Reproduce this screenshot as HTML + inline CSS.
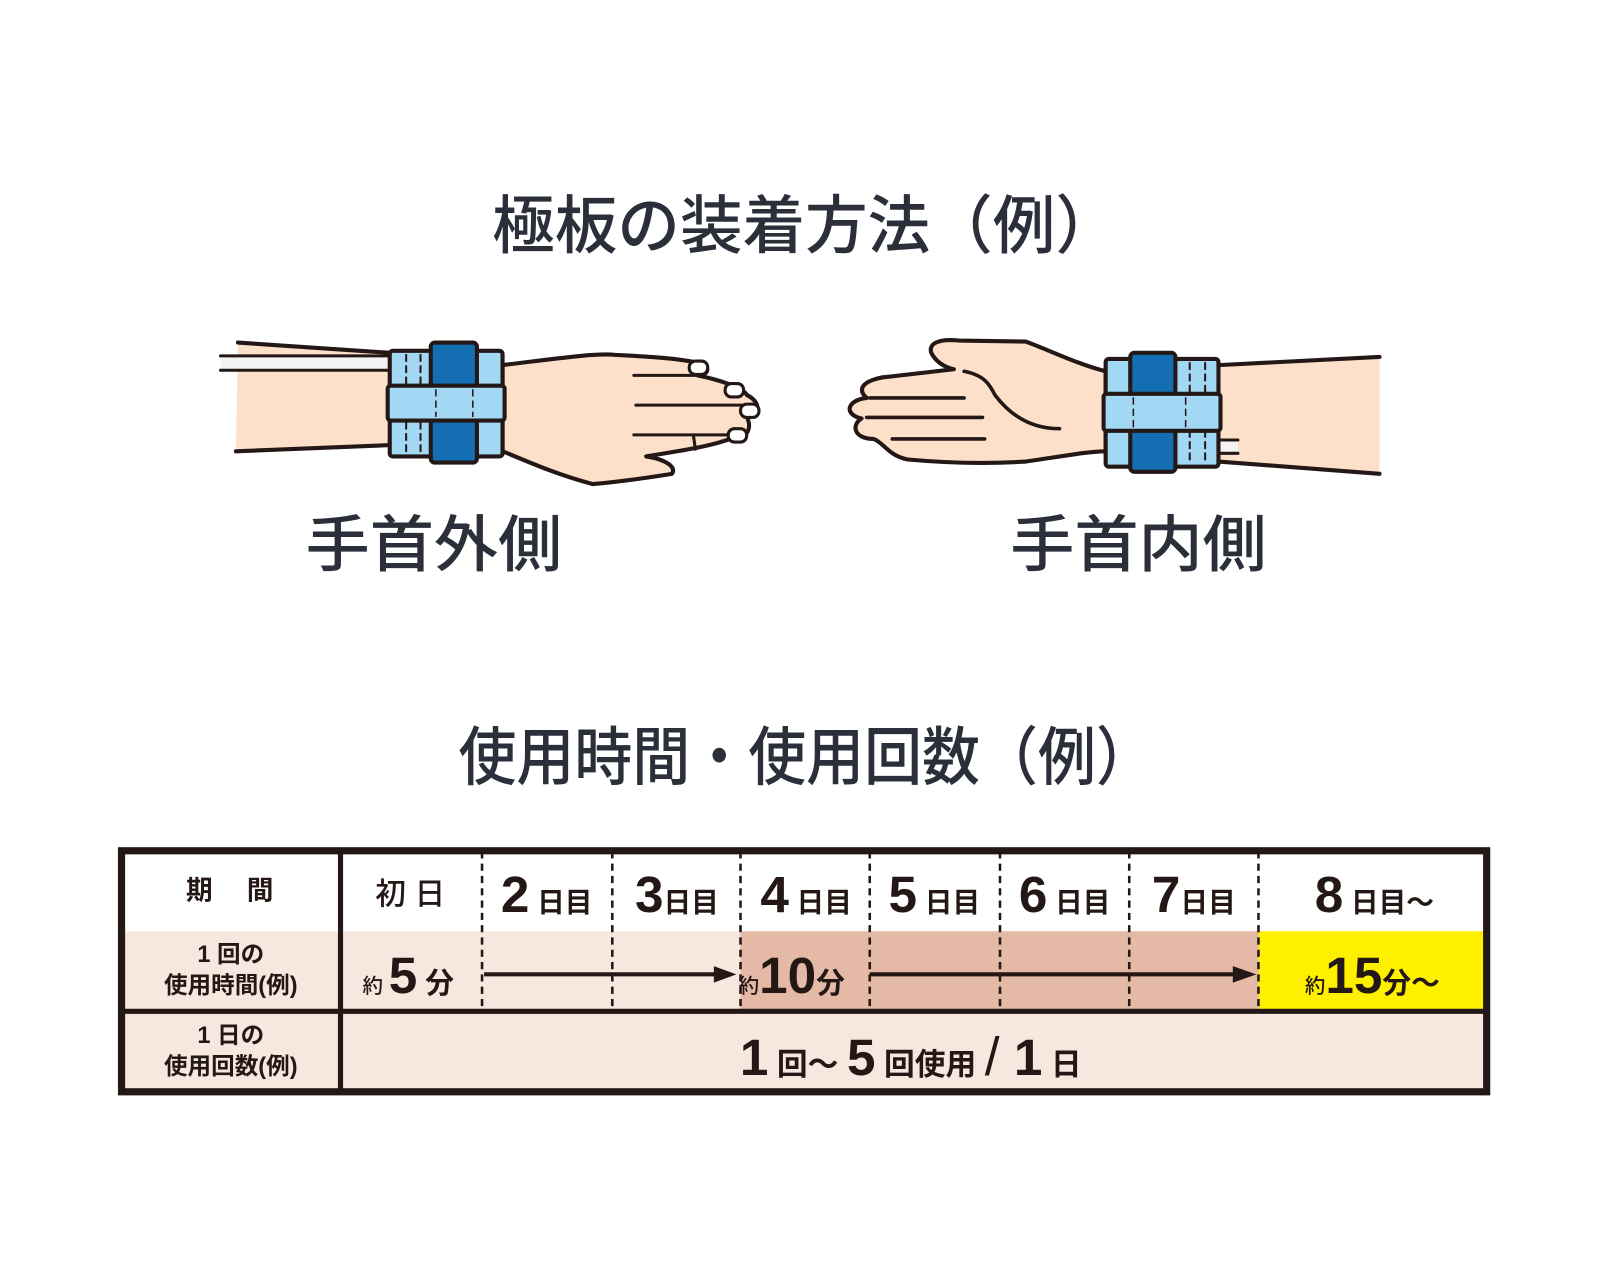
<!DOCTYPE html>
<html><head><meta charset="utf-8"><style>
html,body{margin:0;padding:0;background:#fff}
svg{display:block}
text{font-family:"Liberation Sans","Noto Sans CJK JP",sans-serif;fill:#231815}
.t{font-family:"Noto Sans CJK JP",sans-serif;fill:#2a2f3a;font-weight:500}
.n{font-family:"Liberation Sans Narrow","Liberation Sans",sans-serif;font-weight:700}
</style></head><body>
<svg width="1600" height="1280" viewBox="0 0 1560 1248" xmlns="http://www.w3.org/2000/svg">
<text class="t" x="480" y="242" font-size="62" textLength="610" lengthAdjust="spacingAndGlyphs">極板の装着方法（例）</text>

<!-- left arm -->
<g stroke="#231815" stroke-width="4" stroke-linejoin="round" stroke-linecap="round">
<path d="M232,334 L380,344 L380,434 L230,440 Z" fill="#fde0c9" stroke="none"/>
<path d="M232,334 L380,344 M230,440 L380,434" fill="none"/>
<rect x="215" y="347" width="165" height="14" fill="#f4f4f4" stroke="none"/>
<path d="M215,347 L380,347 M215,361 L380,361" fill="none" stroke-width="3"/>
<path d="M490,356 C540,350 580,344 600,346 C640,348 670,350 688,356 C692,362 688,366 680,366 C700,370 725,378 728,385 C742,392 742,404 728,406 C735,420 725,430 712,428 C690,436 660,440 630,445 C650,448 660,456 655,462 C630,466 600,470 578,472 C540,462 510,448 490,440 Z" fill="#fde0c9"/>
<path d="M618,366 L680,366 M620,395 L725,395 M618,424 L712,424 M676,424 L678,438" fill="none" stroke-width="3"/>
<rect x="672" y="352" width="18" height="13" rx="6" fill="#fff" stroke-width="3"/>
<rect x="707" y="374" width="18" height="13" rx="6" fill="#fff" stroke-width="3"/>
<rect x="722" y="394" width="18" height="13" rx="6" fill="#fff" stroke-width="3"/>
<rect x="710" y="418" width="18" height="13" rx="6" fill="#fff" stroke-width="3"/>
<rect x="380" y="342" width="110" height="103" rx="3" fill="#a3d8f5"/>
<path d="M396,346 V440 M410,346 V440" stroke-width="2" stroke-dasharray="6,5" fill="none"/>
<rect x="420" y="334" width="45" height="117" rx="4" fill="#146eb4"/>
<rect x="378" y="376" width="114" height="34" rx="3" fill="#a3d8f5"/>
<path d="M425,380 V406 M461,380 V406" stroke-width="1.5" stroke-dasharray="6,5" fill="none"/>
</g>
<text class="t" x="298" y="552" font-size="60" textLength="250" lengthAdjust="spacingAndGlyphs">手首外側</text>

<!-- right arm -->
<g stroke="#231815" stroke-width="4" stroke-linejoin="round" stroke-linecap="round">
<path d="M1188,356 L1345,348 L1345,462 L1188,450 Z" fill="#fde0c9" stroke="none"/>
<path d="M1188,356 L1345,348 M1188,450 L1345,462" fill="none"/>
<rect x="1188" y="430" width="19" height="11" fill="#f4f4f4" stroke="none"/>
<path d="M1188,429 H1207 M1188,442 H1207" stroke-width="3" fill="none"/>
<path d="M1078,362 C1050,355 1020,340 1000,333 L935,332 C915,330 905,335 908,344 C912,352 920,358 930,360 L860,368 C840,372 836,380 845,388 C826,390 822,404 840,408 C830,414 832,428 852,428 C862,432 866,444 885,448 C930,452 970,452 1000,450 C1030,446 1060,440 1078,440 Z" fill="#fde0c9"/>
<path d="M848,388 L940,388 M845,407 L958,407 M870,428 L960,428 M940,362 C960,366 965,375 970,385 C985,405 1005,418 1033,418" fill="none" stroke-width="3.5"/>
<rect x="1078" y="350" width="110" height="105" rx="3" fill="#a3d8f5"/>
<path d="M1160,354 V450 M1175,354 V450" stroke-width="2" stroke-dasharray="6,5" fill="none"/>
<rect x="1102" y="344" width="44" height="116" rx="4" fill="#146eb4"/>
<rect x="1076" y="384" width="114" height="36" rx="3" fill="#a3d8f5"/>
<path d="M1105,388 V416 M1156,388 V416" stroke-width="1.5" stroke-dasharray="6,5" fill="none"/>
</g>
<text class="t" x="985" y="552" font-size="60" textLength="250" lengthAdjust="spacingAndGlyphs">手首内側</text>

<text class="t" x="447" y="760" font-size="62" textLength="678" lengthAdjust="spacingAndGlyphs">使用時間・使用回数（例）</text>

<!-- table -->
<rect x="116" y="827" width="1336" height="240" fill="#fff"/>
<rect x="116" y="908" width="1336" height="159" fill="#f7e7df"/>
<rect x="722" y="908" width="505" height="77" fill="#e4b9a5"/>
<rect x="1227" y="908" width="225" height="77" fill="#fff000"/>
<g stroke="#231815" stroke-width="2.5" stroke-dasharray="7,5">
<path d="M470,830 V984 M597,830 V984 M722,830 V984 M848,830 V984 M975,830 V984 M1101,830 V984 M1227,830 V984"/>
</g>
<g stroke="#231815" fill="none">
<rect x="118.5" y="829.5" width="1331" height="235" stroke-width="7"/>
<path d="M332,829 V1065" stroke-width="5"/>
<path d="M118,986 H1450" stroke-width="5"/>
<path d="M472,950 H700 M848,950 H1205" stroke-width="4"/>
</g>
<path d="M718,950 L696,942 L696,958 Z M1225,950 L1202,942 L1202,958 Z" fill="#231815"/>

<text x="224" y="877" font-size="26" text-anchor="middle" font-weight="700">期　 間</text>
<text x="225" y="938" font-size="23" text-anchor="middle" font-weight="700">1 回の</text>
<text x="225" y="968" font-size="23" text-anchor="middle" font-weight="700">使用時間(例)</text>
<text x="225" y="1017" font-size="23" text-anchor="middle" font-weight="700">1 日の</text>
<text x="225" y="1047" font-size="23" text-anchor="middle" font-weight="700">使用回数(例)</text>
<text x="400" y="882" font-size="30" text-anchor="middle" font-weight="500">初 日</text>
<g font-weight="700">
<text x="533" y="889" text-anchor="middle"><tspan font-size="50" class="n">2</tspan><tspan font-size="27" font-weight="700"> 日目</tspan></text>
<text x="660" y="889" text-anchor="middle"><tspan font-size="50" class="n">3</tspan><tspan font-size="27" font-weight="700">日目</tspan></text>
<text x="786" y="889" text-anchor="middle"><tspan font-size="50" class="n">4</tspan><tspan font-size="27" font-weight="700"> 日目</tspan></text>
<text x="911" y="889" text-anchor="middle"><tspan font-size="50" class="n">5</tspan><tspan font-size="27" font-weight="700"> 日目</tspan></text>
<text x="1038" y="889" text-anchor="middle"><tspan font-size="50" class="n">6</tspan><tspan font-size="27" font-weight="700"> 日目</tspan></text>
<text x="1164" y="889" text-anchor="middle"><tspan font-size="50" class="n">7</tspan><tspan font-size="27" font-weight="700">日目</tspan></text>
<text x="1340" y="889" text-anchor="middle"><tspan font-size="50" class="n">8</tspan><tspan font-size="27" font-weight="700"> 日目～</tspan></text>
<text x="398" y="968" text-anchor="middle"><tspan font-size="20" font-weight="500">約 </tspan><tspan font-size="50" class="n">5</tspan><tspan font-size="28" font-weight="700"> 分</tspan></text>
<text x="772" y="968" text-anchor="middle"><tspan font-size="20" font-weight="500">約</tspan><tspan font-size="50" class="n">10</tspan><tspan font-size="28" font-weight="700">分</tspan></text>
<text x="1338" y="968" text-anchor="middle"><tspan font-size="20" font-weight="500">約</tspan><tspan font-size="50" class="n">15</tspan><tspan font-size="28" font-weight="700">分～</tspan></text>
<text x="888" y="1048" text-anchor="middle"><tspan font-size="50" class="n">1</tspan><tspan font-size="30" font-weight="700"> 回～ </tspan><tspan font-size="50" class="n">5</tspan><tspan font-size="30" font-weight="700"> 回使用 </tspan><tspan font-size="52" font-weight="400">/</tspan><tspan font-size="50" class="n"> 1</tspan><tspan font-size="30" font-weight="700"> 日</tspan></text>
</g>
</svg>
</body></html>
